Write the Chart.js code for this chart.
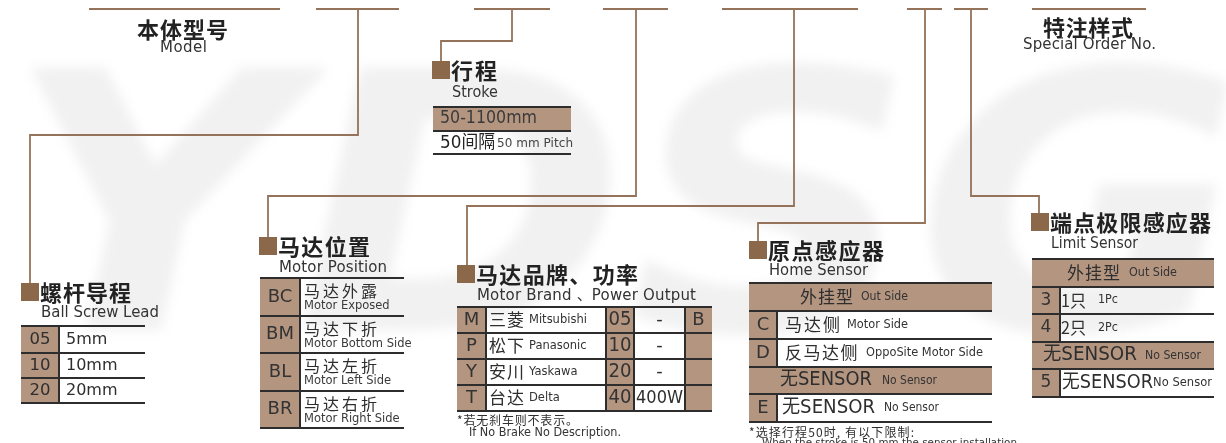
<!DOCTYPE html>
<html>
<head>
<meta charset="utf-8">
<script src="https://cdn.jsdelivr.net/npm/chart.js@4.4.0/dist/chart.umd.min.js"></script>
<style>
  html, body { margin: 0; padding: 0; background: #fff; }
  canvas { display: block; }
</style>
</head>
<body>
<canvas id="codeChart" width="1226" height="443"></canvas>
<script>
// ---- texts of the model code diagram ----
const modelTitle = ["本体型号", "Model"];
const specialTitle = ["特注样式", "Special Order No."];
const strokeTitle = ["行程", "Stroke"];
const strokeRange = "50-1100mm";
const strokePitch = ["50间隔", "50 mm Pitch"];

const leadTitle = ["螺杆导程", "Ball Screw Lead"];
const leadCodes = ["05", "10", "20"];
const leadValues = ["5mm", "10mm", "20mm"];

const positionTitle = ["马达位置", "Motor Position"];
const positionCodes = ["BC", "BM", "BL", "BR"];
const positionNames = ["马达外露", "马达下折", "马达左折", "马达右折"];
const positionNamesEn = ["Motor Exposed", "Motor Bottom Side", "Motor Left Side", "Motor Right Side"];

const brandTitle = ["马达品牌、功率", "Motor Brand 、Power Output"];
const brandCodes = ["M", "P", "Y", "T"];
const brandNames = ["三菱", "松下", "安川", "台达"];
const brandNamesEn = ["Mitsubishi", "Panasonic", "Yaskawa", "Delta"];
const powerCodes = ["05", "10", "20", "40"];
const powerValues = ["-", "-", "-", "400W"];
const brakeCodes = ["B", "", "", ""];
const brandNote = ["*若无刹车则不表示。", "If No Brake No Description."];

const homeTitle = ["原点感应器", "Home Sensor"];
const homeOutside = ["外挂型", "Out Side"];
const homeCodes = ["C", "D"];
const homeNames = ["马达侧", "反马达侧"];
const homeNamesEn = ["Motor Side", "OppoSite Motor Side"];
const noSensor = ["无SENSOR", "No Sensor"];
const homeNoCode = "E";
const homeNote = ["*选择行程50时, 有以下限制:", "When the stroke is 50 mm the sensor installation"];

const limitTitle = ["端点极限感应器", "Limit Sensor"];
const limitCodes = ["3", "4"];
const limitNames = ["1只", "2只"];
const limitNamesEn = ["1Pc", "2Pc"];
const limitNoCode = "5";

// ---- layout / style ----
const TAN = "#b49580";
const DARK = "#2d2d2d";
const BROWN = "#94735a";
const SQUARE = "#8b6849";
const INK = "#2e2e2e";
const CJK = '"Noto Sans CJK SC", sans-serif';
const LAT = '"DejaVu Sans", "Noto Sans CJK SC", sans-serif';

// leader lines from the code bar down to each section
const connectorPaths = [
  [[89, 9], [280, 9]],
  [[316, 9], [399, 9]],
  [[358, 9], [358, 135], [30, 135], [30, 284]],
  [[474, 9], [550, 9]],
  [[512, 9], [512, 41], [441, 41], [441, 62]],
  [[603, 9], [668, 9]],
  [[636, 9], [636, 196], [268, 196], [268, 238]],
  [[722, 9], [858, 9]],
  [[794, 9], [794, 206], [467, 206], [467, 266]],
  [[907, 9], [942, 9]],
  [[925, 9], [925, 223], [758, 223], [758, 242]],
  [[954, 9], [988, 9]],
  [[971, 9], [971, 196], [1039, 196], [1039, 214]],
  [[1032, 9], [1146, 9]]
];

// text helper: x = left (or centre), y = middle
function T(ctx, s, x, y, size, o = {}) {
  if (!s) return;
  ctx.save();
  ctx.font = (o.bold ? "bold " : "") + size + "px " + (o.family || LAT);
  ctx.fillStyle = o.color || INK;
  ctx.textBaseline = "middle";
  ctx.textAlign = "left";
  const n = [...s].length;
  let nat = ctx.measureText(s).width;
  let sp = o.spacing || 0;
  let sx = 1;
  let width = nat + sp * (n - 1);
  if (o.w) {
    if (nat > o.w) { sx = o.w / nat; sp = 0; }
    else if (n > 1) sp = (o.w - nat) / (n - 1);
    width = o.w;
  }
  ctx.letterSpacing = sp + "px";
  const left = o.center ? x - width / 2 : x;
  ctx.translate(left, y);
  ctx.scale(sx, 1);
  ctx.fillText(s, 0, 0);
  ctx.restore();
}

function hline(ctx, x0, x1, y, w = 2, c = DARK) {
  ctx.fillStyle = c;
  ctx.fillRect(x0, y - w / 2, x1 - x0, w);
}
function vline(ctx, x, y0, y1, w = 2, c = DARK) {
  ctx.fillStyle = c;
  ctx.fillRect(x - w / 2, y0, w, y1 - y0);
}
function box(ctx, x0, y0, x1, y1, c = TAN) {
  ctx.fillStyle = c;
  ctx.fillRect(x0, y0, x1 - x0, y1 - y0);
}
function heading(ctx, sq, title, tx, ty, tw, sy, sw) {
  box(ctx, sq[0], sq[1], sq[0] + 18, sq[1] + 18, SQUARE);
  T(ctx, title[0], tx, ty, 22, { bold: true, family: CJK, w: tw, color: "#222" });
  T(ctx, title[1], tx + 1, sy, 15, { w: sw, color: "#333" });
}

const watermark = {
  id: "watermark",
  beforeDatasetsDraw(chart) {
    const ctx = chart.ctx;
    ctx.save();
    ctx.fillStyle = "#fff";
    ctx.fillRect(0, 0, chart.width, chart.height);
    ctx.filter = "blur(6px)";
    ctx.fillStyle = "#f1f1f1";
    ctx.font = "italic bold 360px " + LAT;
    ctx.textBaseline = "alphabetic";
    const w = ctx.measureText("YDSG").width;
    ctx.translate(5, 330);
    ctx.scale(1240 / w, 1);
    ctx.fillText("YDSG", 0, 0);
    ctx.restore();
  }
};

const tables = {
  id: "tables",
  afterDatasetsDraw(chart) {
    const ctx = chart.ctx;
    const X = v => chart.scales.x.getPixelForValue(v);
    const Y = v => chart.scales.y.getPixelForValue(v);
    ctx.save();

    // top headings
    T(ctx, modelTitle[0], X(137), Y(30), 22, { bold: true, family: CJK, w: 91, color: "#222" });
    T(ctx, modelTitle[1], X(160), Y(48), 15, { w: 47, color: "#333" });
    T(ctx, specialTitle[0], X(1043), Y(28), 22, { bold: true, family: CJK, w: 90, color: "#222" });
    T(ctx, specialTitle[1], X(1023), Y(45), 15, { w: 133, color: "#333" });

    // stroke
    heading(ctx, [X(432), Y(61)], strokeTitle, X(451), Y(71), 46, Y(93), 46);
    box(ctx, X(433), Y(107), X(571), Y(131));
    hline(ctx, X(433), X(571), Y(107));
    hline(ctx, X(433), X(571), Y(131));
    hline(ctx, X(433), X(571), Y(154));
    T(ctx, strokeRange, X(440), Y(119), 17, { w: 97, color: "#3a3a3a" });
    T(ctx, strokePitch[0], X(440), Y(143), 18, { w: 55, color: "#222" });
    T(ctx, strokePitch[1], X(497), Y(144), 12, { w: 76, color: "#444" });

    // ball screw lead
    heading(ctx, [X(21), Y(283)], leadTitle, X(40), Y(293), 91, Y(313), 118);
    const leadRows = [326, 353, 378, 403];
    box(ctx, X(21), Y(326), X(59), Y(403));
    leadRows.forEach(r => hline(ctx, X(21), X(145), Y(r)));
    vline(ctx, X(59), Y(326), Y(403));
    leadCodes.forEach((c, i) => {
      const cy = Y((leadRows[i] + leadRows[i + 1]) / 2);
      T(ctx, c, X(40), cy, 16.5, { center: true });
      T(ctx, leadValues[i], X(66), cy, 16);
    });

    // motor position
    heading(ctx, [X(259), Y(237)], positionTitle, X(278), Y(247), 92, Y(268), 108);
    const posRows = [278, 316, 353, 391, 428];
    box(ctx, X(260), Y(278), X(300), Y(428));
    posRows.forEach(r => hline(ctx, X(260), X(404), Y(r)));
    vline(ctx, X(300), Y(278), Y(428));
    positionCodes.forEach((c, i) => {
      const top = posRows[i];
      const cy = Y((top + posRows[i + 1]) / 2);
      T(ctx, c, X(280), cy, 18, { center: true, color: "#333" });
      T(ctx, positionNames[i], X(304), Y(top + 13), 16, { family: CJK, spacing: 3 });
      T(ctx, positionNamesEn[i], X(304), Y(top + 28), 11.5, { color: "#3a3a3a" });
    });

    // motor brand, power
    heading(ctx, [X(457), Y(265)], brandTitle, X(476), Y(275), 162, Y(296), 219);
    const brandRows = [307, 333, 359, 385, 411];
    const bc = [457, 486, 606, 634, 685, 712];
    box(ctx, X(bc[0]), Y(307), X(bc[1]), Y(411));
    box(ctx, X(bc[2]), Y(307), X(bc[3]), Y(411));
    box(ctx, X(bc[4]), Y(307), X(bc[5]), Y(411));
    brandRows.forEach(r => hline(ctx, X(bc[0]), X(bc[5]), Y(r)));
    [1, 2, 3, 4].forEach(k => vline(ctx, X(bc[k]), Y(307), Y(411)));
    brandCodes.forEach((c, i) => {
      const cy = Y((brandRows[i] + brandRows[i + 1]) / 2);
      T(ctx, c, X(471.5), cy, 18, { center: true, color: "#333" });
      T(ctx, brandNames[i], X(489), cy, 17, { family: CJK, spacing: 1 });
      T(ctx, brandNamesEn[i], X(529), cy, 11.5, { color: "#333" });
      T(ctx, powerCodes[i], X(620), cy, 19, { center: true, w: 23, color: "#333" });
      T(ctx, powerValues[i], X(659.5), cy, 18, powerValues[i].length > 1 ? { center: true, w: 47 } : { center: true });
      T(ctx, brakeCodes[i], X(698.5), cy, 18, { center: true, color: "#333" });
    });
    T(ctx, brandNote[0], X(457), Y(420), 12, { family: CJK, w: 121 });
    T(ctx, brandNote[1], X(469), Y(433), 12, { w: 152, color: "#333" });

    // home sensor
    heading(ctx, [X(749), Y(241)], homeTitle, X(768), Y(251), 116, Y(271), 99);
    const hr = [283, 311, 339, 367, 394, 422];
    box(ctx, X(749), Y(hr[0]), X(992), Y(hr[1]));
    box(ctx, X(749), Y(hr[3]), X(992), Y(hr[4]));
    box(ctx, X(749), Y(hr[1]), X(777), Y(hr[3]));
    box(ctx, X(749), Y(hr[4]), X(777), Y(hr[5]));
    hr.forEach(r => hline(ctx, X(749), X(992), Y(r)));
    vline(ctx, X(777), Y(hr[1]), Y(hr[3]));
    vline(ctx, X(777), Y(hr[4]), Y(hr[5]));
    const mid = k => Y((hr[k] + hr[k + 1]) / 2);
    T(ctx, homeOutside[0], X(800), mid(0), 17, { family: CJK, w: 53 });
    T(ctx, homeOutside[1], X(861), mid(0), 12, { w: 47, color: "#333" });
    homeCodes.forEach((c, i) => {
      T(ctx, c, X(763), mid(i + 1), 18, { center: true, color: "#333" });
      T(ctx, homeNames[i], X(785), mid(i + 1), 17, { family: CJK, spacing: i ? 1.5 : 2 });
      T(ctx, homeNamesEn[i], X(i ? 866 : 847), mid(i + 1), 12, { w: i ? 117 : 61, color: "#333" });
    });
    T(ctx, noSensor[0], X(780), mid(3), 19, { w: 92 });
    T(ctx, noSensor[1], X(882), mid(3), 12, { w: 55, color: "#333" });
    T(ctx, homeNoCode, X(763), mid(4), 18, { center: true, color: "#333" });
    T(ctx, noSensor[0], X(782), mid(4), 19, { w: 93 });
    T(ctx, noSensor[1], X(884), mid(4), 12, { w: 55, color: "#333" });
    T(ctx, homeNote[0], X(749), Y(432), 12, { family: CJK, w: 165 });
    T(ctx, homeNote[1], X(762), Y(443), 11, { w: 255, color: "#333" });

    // limit sensor
    heading(ctx, [X(1031), Y(213)], limitTitle, X(1050), Y(223), 161, Y(244), 87);
    const lr = [259, 287, 314, 342, 369, 397];
    const lx1 = 1214;
    box(ctx, X(1032), Y(lr[0]), X(lx1), Y(lr[1]));
    box(ctx, X(1032), Y(lr[3]), X(lx1), Y(lr[4]));
    box(ctx, X(1032), Y(lr[1]), X(1060), Y(lr[3]));
    box(ctx, X(1032), Y(lr[4]), X(1060), Y(lr[5]));
    lr.forEach(r => hline(ctx, X(1032), X(lx1), Y(r)));
    vline(ctx, X(1060), Y(lr[1]), Y(lr[3]));
    vline(ctx, X(1060), Y(lr[4]), Y(lr[5]));
    const lm = k => Y((lr[k] + lr[k + 1]) / 2);
    T(ctx, homeOutside[0], X(1067), lm(0), 17, { family: CJK, w: 53 });
    T(ctx, homeOutside[1], X(1129), lm(0), 12, { w: 48, color: "#333" });
    limitCodes.forEach((c, i) => {
      T(ctx, c, X(1046), lm(i + 1), 17, { center: true, color: "#333" });
      T(ctx, limitNames[i], X(1061), lm(i + 1), 17, { family: CJK, w: 25 });
      T(ctx, limitNamesEn[i], X(1098), lm(i + 1), 11.5, { w: 20, color: "#333" });
    });
    T(ctx, noSensor[0], X(1043), lm(3), 19, { w: 94 });
    T(ctx, noSensor[1], X(1145), lm(3), 12, { w: 56, color: "#333" });
    T(ctx, limitNoCode, X(1046), lm(4), 17, { center: true, color: "#333" });
    T(ctx, noSensor[0], X(1062), lm(4), 19, { w: 91 });
    T(ctx, noSensor[1], X(1153), lm(4), 11.5, { w: 59, color: "#333" });

    ctx.restore();
  }
};

new Chart(document.getElementById("codeChart"), {
  type: "scatter",
  data: {
    datasets: connectorPaths.map(path => ({
      data: path.map(p => ({ x: p[0], y: p[1] })),
      showLine: true,
      borderColor: BROWN,
      borderWidth: 1.8,
      pointRadius: 0,
      fill: false,
      tension: 0
    }))
  },
  options: {
    responsive: false,
    animation: false,
    layout: { padding: 0 },
    plugins: { legend: { display: false }, tooltip: { enabled: false } },
    scales: {
      x: { type: "linear", min: 0, max: 1226, display: false },
      y: { type: "linear", min: 0, max: 443, reverse: true, display: false }
    }
  },
  plugins: [watermark, tables]
});
</script>
</body>
</html>
